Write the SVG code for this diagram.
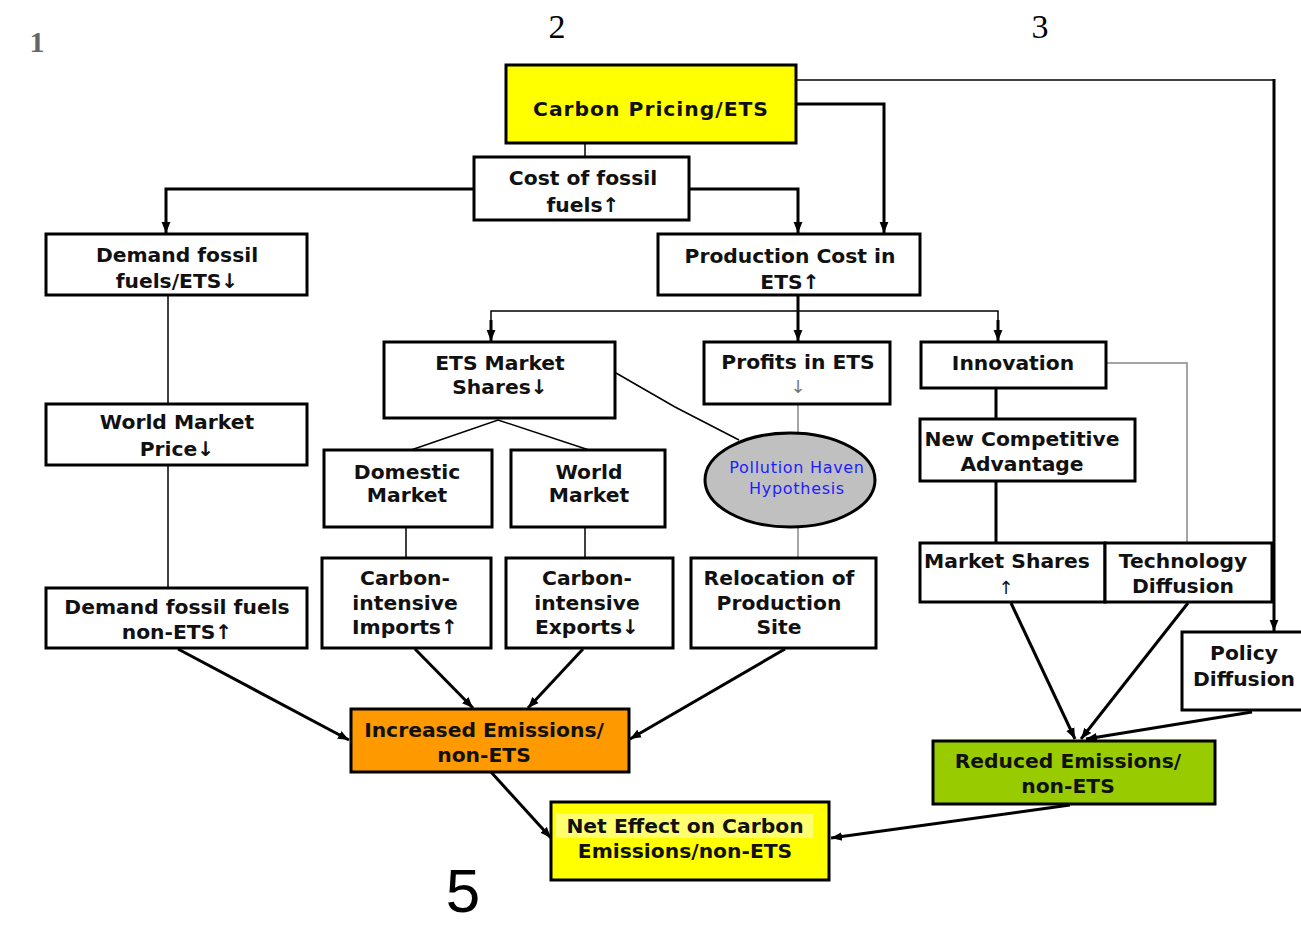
<svg xmlns="http://www.w3.org/2000/svg" width="1301" height="927" viewBox="0 0 1301 927">
<style>
.box{fill:#fff;stroke:#000;stroke-width:3}
.t{font-family:"DejaVu Sans",Verdana,sans-serif;font-weight:bold;font-size:20.3px;fill:#111;text-anchor:middle}
.c{fill:none;stroke:#000;stroke-width:3}
.thin{fill:none;stroke:#000;stroke-width:1.5}
.gray{fill:none;stroke:#888;stroke-width:1.5}
</style>
<defs>
<marker id="ah" viewBox="0 0 10 10" refX="10" refY="5" markerWidth="11" markerHeight="11" markerUnits="userSpaceOnUse" orient="auto"><path d="M0,1 L10,5 L0,9 z" fill="#000"/></marker>
</defs>
<rect width="1301" height="927" fill="#fff"/>
<text x="37" y="52" font-family="Liberation Serif,serif" font-weight="bold" font-size="30" fill="#666" text-anchor="middle">1</text>
<text x="557" y="38" font-family="Liberation Serif,serif" font-size="34" fill="#000" text-anchor="middle">2</text>
<text x="1040" y="38" font-family="Liberation Serif,serif" font-size="34" fill="#000" text-anchor="middle">3</text>
<text x="463" y="912" font-family="Liberation Sans,sans-serif" font-size="62" fill="#000" text-anchor="middle">5</text>

<g id="connectors">
<line class="thin" x1="585" y1="143" x2="585" y2="157"/>
<polyline class="c" points="474,189 166,189 166,233" marker-end="url(#ah)"/>
<polyline class="c" points="689,189 798,189 798,233" stroke-width="2.5" marker-end="url(#ah)"/>
<polyline class="c" points="796,104 884,104 884,233" stroke-width="4" marker-end="url(#ah)"/>
<polyline class="thin" points="796,80 1274,80"/>
<line class="c" x1="1274" y1="79" x2="1274" y2="631" stroke-width="4" marker-end="url(#ah)"/>
<line class="thin" x1="168" y1="295" x2="168" y2="404"/>
<line class="thin" x1="168" y1="465" x2="168" y2="588"/>
<line class="c" x1="798" y1="295" x2="798" y2="311"/>
<polyline class="thin" points="491,341 491,311 998,311 998,341" stroke-width="2"/>
<line class="c" x1="491" y1="320" x2="491" y2="341" marker-end="url(#ah)"/>
<line class="c" x1="798" y1="311" x2="798" y2="341" marker-end="url(#ah)"/>
<line class="c" x1="998" y1="320" x2="998" y2="341" marker-end="url(#ah)"/>
<polyline class="thin" points="411,450 498,420 589,450"/>
<polyline class="thin" points="616,373 675,407 739,440" stroke-width="2"/>
<line class="gray" x1="798" y1="404" x2="798" y2="433"/>
<line class="gray" x1="798" y1="528" x2="798" y2="558"/>
<line class="thin" x1="406" y1="527" x2="406" y2="558"/>
<line class="thin" x1="585" y1="527" x2="585" y2="558"/>
<line class="c" x1="996" y1="388" x2="996" y2="419" stroke-width="2.5"/>
<line class="c" x1="996" y1="481" x2="996" y2="543" stroke-width="2.5"/>
<polyline class="gray" points="1106,363 1187,363 1187,543"/>
<line class="c" x1="178" y1="649" x2="349" y2="740" marker-end="url(#ah)"/>
<line class="c" x1="415" y1="649" x2="473" y2="708" marker-end="url(#ah)"/>
<line class="c" x1="583" y1="649" x2="528" y2="708" marker-end="url(#ah)"/>
<line class="c" x1="785" y1="649" x2="630" y2="739" marker-end="url(#ah)"/>
<line class="c" x1="491" y1="772" x2="551" y2="838" marker-end="url(#ah)"/>
<line class="c" x1="1011" y1="603" x2="1075" y2="739" marker-end="url(#ah)"/>
<line class="c" x1="1188" y1="603" x2="1081" y2="739" marker-end="url(#ah)"/>
<line class="c" x1="1252" y1="712" x2="1086" y2="739" marker-end="url(#ah)"/>
<line class="c" x1="1070" y1="805" x2="831" y2="838" marker-end="url(#ah)"/>
</g>

<g id="carbon-pricing">
<rect class="box" x="506" y="65" width="290" height="78" style="fill:#ffff00"/>
<text class="t" x="651" y="116" font-size="22" letter-spacing="1">Carbon Pricing/ETS</text>
</g>
<g id="cost-fossil">
<rect class="box" x="474" y="157" width="215" height="63" stroke-width="2"/>
<text class="t" x="583" y="185">Cost of fossil</text>
<text class="t" x="583" y="212">fuels↑</text>
</g>
<g id="demand-ets">
<rect class="box" x="46" y="234" width="261" height="61"/>
<text class="t" x="177" y="262">Demand fossil</text>
<text class="t" x="177" y="288">fuels/ETS↓</text>
</g>
<g id="production-cost">
<rect class="box" x="658" y="234" width="262" height="61"/>
<text class="t" x="790" y="263">Production Cost in</text>
<text class="t" x="790" y="289">ETS↑</text>
</g>
<g id="ets-market-shares">
<rect class="box" x="384" y="342" width="231" height="76"/>
<text class="t" x="500" y="370">ETS Market</text>
<text class="t" x="500" y="394">Shares↓</text>
</g>
<g id="profits">
<rect class="box" x="704" y="342" width="186" height="62"/>
<text class="t" x="798" y="369">Profits in ETS</text>
<text x="798" y="393" font-family="DejaVu Sans,sans-serif" font-size="18" fill="#777" text-anchor="middle">↓</text>
</g>
<g id="innovation">
<rect class="box" x="921" y="342" width="185" height="46"/>
<text class="t" x="1013" y="370">Innovation</text>
</g>
<g id="world-market-price">
<rect class="box" x="46" y="404" width="261" height="61"/>
<text class="t" x="177" y="429">World Market</text>
<text class="t" x="177" y="456">Price↓</text>
</g>
<g id="new-competitive">
<rect class="box" x="920" y="419" width="215" height="62"/>
<text class="t" x="1022" y="446">New Competitive</text>
<text class="t" x="1022" y="471">Advantage</text>
</g>
<g id="domestic-market">
<rect class="box" x="324" y="450" width="168" height="77"/>
<text class="t" x="407" y="479">Domestic</text>
<text class="t" x="407" y="502">Market</text>
</g>
<g id="world-market">
<rect class="box" x="511" y="450" width="154" height="77"/>
<text class="t" x="589" y="479">World</text>
<text class="t" x="589" y="502">Market</text>
</g>
<g id="pollution-haven">
<ellipse cx="790" cy="480" rx="85" ry="47" fill="#c0c0c0" stroke="#000" stroke-width="3"/>
<text x="797" y="473" font-family="DejaVu Sans,sans-serif" font-size="16" letter-spacing="0.7" fill="#2020ff" text-anchor="middle">Pollution Haven</text>
<text x="797" y="494" font-family="DejaVu Sans,sans-serif" font-size="16" letter-spacing="0.7" fill="#2020ff" text-anchor="middle">Hypothesis</text>
</g>
<g id="market-shares">
<rect class="box" x="920" y="543" width="185" height="59"/>
<text class="t" x="1007" y="568" font-size="18">Market Shares</text>
<text x="1006" y="594" font-family="DejaVu Sans,sans-serif" font-size="18" fill="#111" text-anchor="middle">↑</text>
</g>
<g id="technology-diffusion">
<rect class="box" x="1105" y="543" width="167" height="59"/>
<text class="t" x="1183" y="568" font-size="19.5">Technology</text>
<text class="t" x="1183" y="593">Diffusion</text>
</g>
<g id="imports">
<rect class="box" x="322" y="558" width="169" height="90"/>
<text class="t" x="405" y="585">Carbon-</text>
<text class="t" x="405" y="610">intensive</text>
<text class="t" x="405" y="634" font-size="19">Imports↑</text>
</g>
<g id="exports">
<rect class="box" x="506" y="558" width="167" height="90"/>
<text class="t" x="587" y="585">Carbon-</text>
<text class="t" x="587" y="610">intensive</text>
<text class="t" x="587" y="634" font-size="19">Exports↓</text>
</g>
<g id="relocation">
<rect class="box" x="691" y="558" width="185" height="90"/>
<text class="t" x="779" y="585">Relocation of</text>
<text class="t" x="779" y="610">Production</text>
<text class="t" x="779" y="634">Site</text>
</g>
<g id="demand-non-ets">
<rect class="box" x="46" y="588" width="261" height="60"/>
<text class="t" x="177" y="614">Demand fossil fuels</text>
<text class="t" x="177" y="639">non-ETS↑</text>
</g>
<g id="policy-diffusion">
<rect class="box" x="1182" y="632" width="124" height="78" stroke-width="2"/>
<text class="t" x="1244" y="660">Policy</text>
<text class="t" x="1244" y="686">Diffusion</text>
</g>
<g id="increased-emissions">
<rect class="box" x="351" y="709" width="278" height="63" style="fill:#ff9900"/>
<text class="t" x="484" y="737">Increased Emissions/</text>
<text class="t" x="484" y="762">non-ETS</text>
</g>
<g id="reduced-emissions">
<rect class="box" x="933" y="741" width="282" height="63" style="fill:#99cc00"/>
<text class="t" x="1068" y="768">Reduced Emissions/</text>
<text class="t" x="1068" y="793">non-ETS</text>
</g>
<g id="net-effect">
<rect class="box" x="551" y="802" width="278" height="78" style="fill:#ffff00"/>
<rect x="556" y="814" width="257" height="24" fill="#ffff70"/>
<text class="t" x="685" y="833">Net Effect on Carbon</text>
<text class="t" x="685" y="858">Emissions/non-ETS</text>
</g>
</svg>
